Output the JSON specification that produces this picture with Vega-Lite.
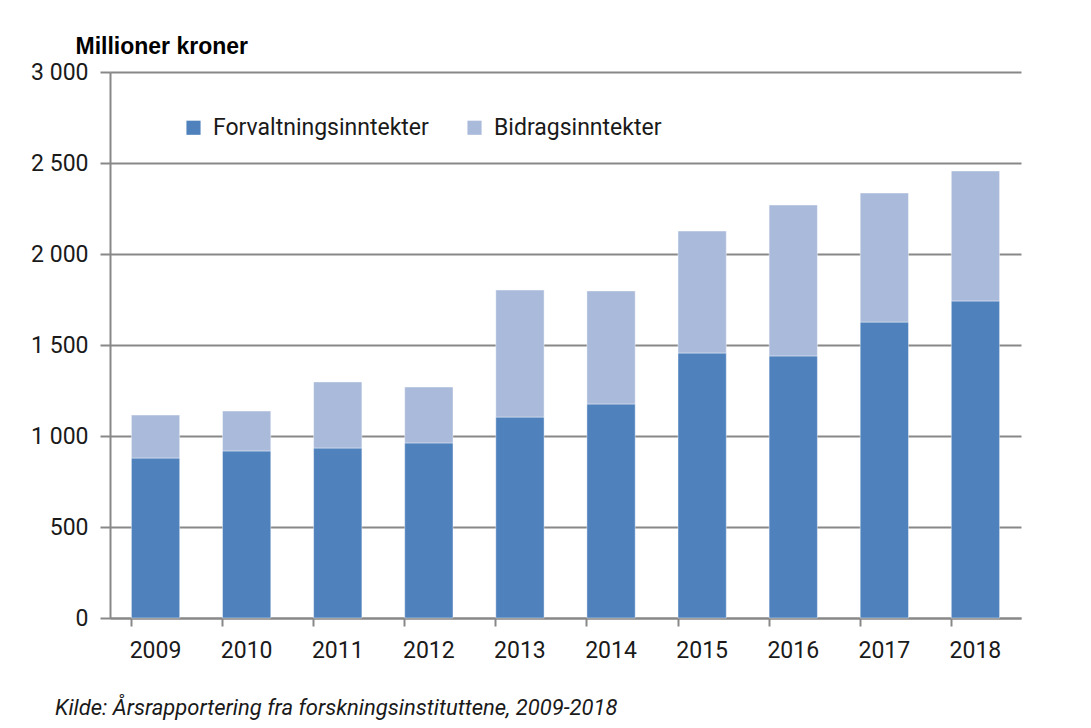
{
  "$schema": "https://vega.github.io/schema/vega-lite/v6.json",
  "autosize": {"type": "none"},
  "width": 911,
  "height": 546,
  "padding": {"left": 110, "top": 72, "right": 70, "bottom": 110},
  "background": "white",
  "data": {"values": [
    {"year": "2009", "type": "Forvaltningsinntekter", "value": 879},
    {"year": "2009", "type": "Bidragsinntekter", "value": 236},
    {"year": "2010", "type": "Forvaltningsinntekter", "value": 918},
    {"year": "2010", "type": "Bidragsinntekter", "value": 219},
    {"year": "2011", "type": "Forvaltningsinntekter", "value": 934},
    {"year": "2011", "type": "Bidragsinntekter", "value": 363},
    {"year": "2012", "type": "Forvaltningsinntekter", "value": 962},
    {"year": "2012", "type": "Bidragsinntekter", "value": 307},
    {"year": "2013", "type": "Forvaltningsinntekter", "value": 1104},
    {"year": "2013", "type": "Bidragsinntekter", "value": 698},
    {"year": "2014", "type": "Forvaltningsinntekter", "value": 1176},
    {"year": "2014", "type": "Bidragsinntekter", "value": 621},
    {"year": "2015", "type": "Forvaltningsinntekter", "value": 1456},
    {"year": "2015", "type": "Bidragsinntekter", "value": 670},
    {"year": "2016", "type": "Forvaltningsinntekter", "value": 1440},
    {"year": "2016", "type": "Bidragsinntekter", "value": 829},
    {"year": "2017", "type": "Forvaltningsinntekter", "value": 1626},
    {"year": "2017", "type": "Bidragsinntekter", "value": 709},
    {"year": "2018", "type": "Forvaltningsinntekter", "value": 1742},
    {"year": "2018", "type": "Bidragsinntekter", "value": 714}
  ]},
  "title": {
    "text": "Kilde: Årsrapportering fra forskningsinstituttene, 2009-2018",
    "orient": "bottom",
    "anchor": "start",
    "frame": "group",
    "dx": -55,
    "offset": 36,
    "font": "Roboto",
    "fontStyle": "italic",
    "fontWeight": "normal",
    "fontSize": 22,
    "color": "#1a1a1a"
  },
  "mark": {"type": "bar", "stroke": "white", "strokeWidth": 0.7, "strokeOpacity": 0.6},
  "encoding": {
    "x": {
      "field": "year", "type": "nominal",
      "scale": {"paddingInner": 0.47, "paddingOuter": 0.235},
      "axis": {
        "title": null, "labelAngle": 0, "labelFont": "Roboto", "labelFontSize": 23,
        "labelColor": "#1a1a1a", "labelPadding": 13, "bandPosition": 0,
        "tickColor": "#888", "tickSize": 8, "tickWidth": 2,
        "domainColor": "#888", "domainWidth": 2, "grid": false
      }
    },
    "y": {
      "field": "value", "type": "quantitative", "stack": "zero",
      "scale": {"domain": [0, 3000]},
      "axis": {
        "values": [0, 500, 1000, 1500, 2000, 2500, 3000],
        "labelExpr": "replace(format(datum.value, ','), ',', ' ')",
        "labelFont": "Roboto", "labelFontSize": 23, "labelColor": "#1a1a1a",
        "labelPadding": 12,
        "tickColor": "#888", "tickSize": 10, "tickWidth": 2,
        "domainColor": "#888", "domainWidth": 2,
        "gridColor": "#888", "gridWidth": 2,
        "title": "Millioner kroner", "titleAngle": 0, "titleAlign": "left",
        "titleBaseline": "alphabetic", "titleX": -35, "titleY": -19,
        "titleFont": "Liberation Sans", "titleFontSize": 23, "titleFontWeight": "bold",
        "titleColor": "#000"
      }
    },
    "color": {
      "field": "type", "type": "nominal",
      "sort": ["Forvaltningsinntekter", "Bidragsinntekter"],
      "scale": {"domain": ["Forvaltningsinntekter", "Bidragsinntekter"], "range": ["#4F81BD", "#AABADA"]},
      "legend": {
        "title": null, "orient": "none", "direction": "horizontal",
        "legendX": 72, "legendY": 44,
        "symbolType": "square", "symbolSize": 200, "symbolStrokeWidth": 0,
        "labelFont": "Roboto", "labelFontSize": 23, "labelColor": "#1a1a1a",
        "labelLimit": 400,
        "columnPadding": 34, "labelOffset": 8
      }
    },
    "order": {"field": "type", "sort": "descending"}
  },
  "config": {"view": {"stroke": null}}
}
